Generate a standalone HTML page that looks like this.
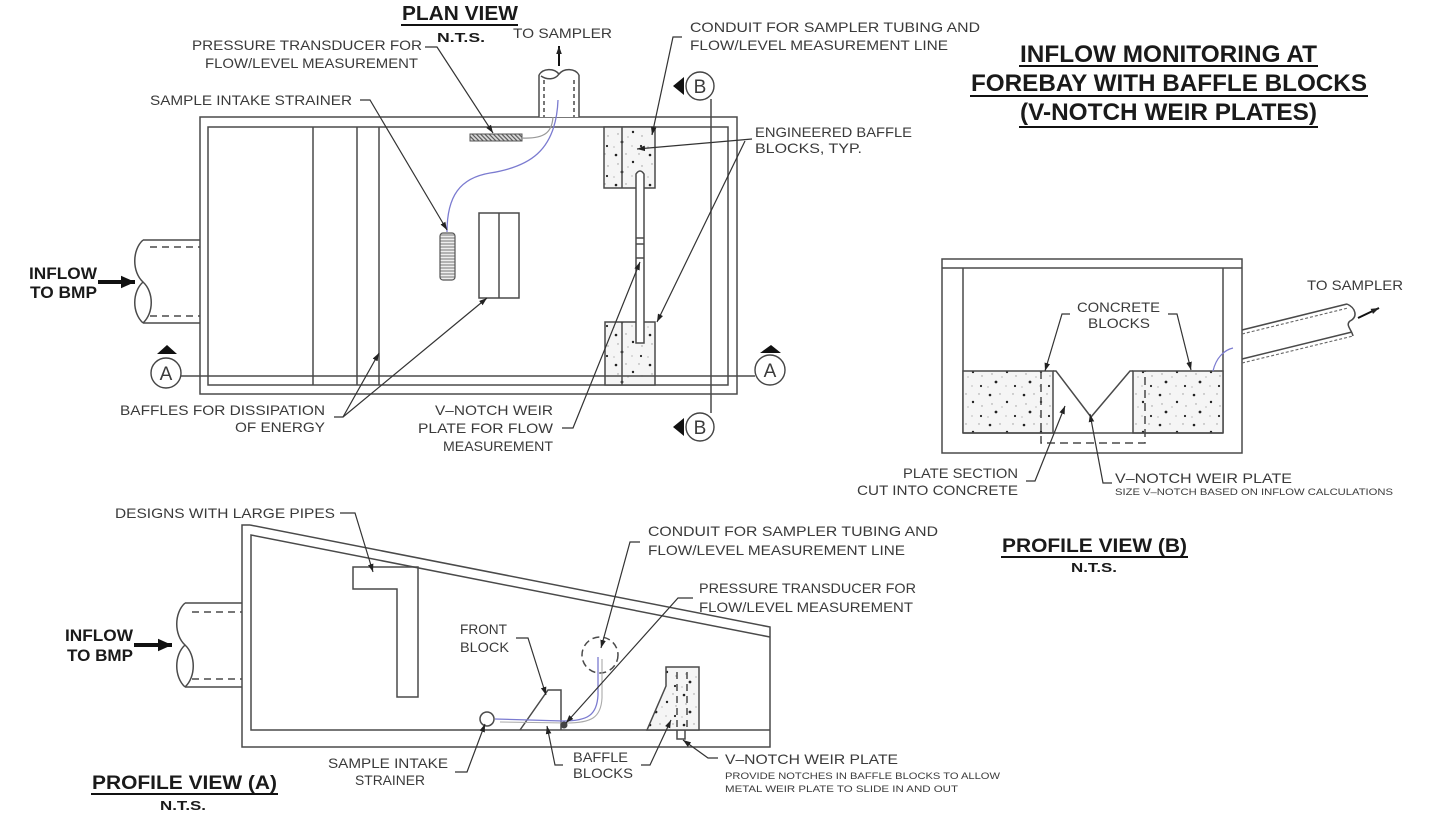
<!DOCTYPE html>
<html>
<head>
<meta charset="utf-8">
<style>
html,body{margin:0;padding:0;background:#fff;}
svg{display:block;}
.c{font-family:"Liberation Sans",sans-serif;font-size:14px;fill:#3a3a3a;}
.s{font-family:"Liberation Sans",sans-serif;font-size:9px;fill:#3a3a3a;}
.b{font-family:"Liberation Sans",sans-serif;font-weight:bold;fill:#1a1a1a;}
.l{stroke:#4a4a4a;stroke-width:1.5;fill:none;}
.k{stroke:#333;stroke-width:1.2;fill:none;}
</style>
</head>
<body>
<svg width="1440" height="824" viewBox="0 0 1440 824" xmlns="http://www.w3.org/2000/svg">
<defs>
<marker id="ah" viewBox="0 0 10 10" refX="10" refY="5" markerWidth="8" markerHeight="8" markerUnits="userSpaceOnUse" orient="auto"><path d="M0,1.5 L10,5 L0,8.5z" fill="#222"/></marker>
<marker id="big" viewBox="0 0 10 10" refX="10" refY="5" markerWidth="14" markerHeight="14" markerUnits="userSpaceOnUse" orient="auto"><path d="M0,0.5 L10,5 L0,9.5z" fill="#111"/></marker>
<pattern id="conc" width="34" height="30" patternUnits="userSpaceOnUse">
<rect width="34" height="30" fill="#f5f5f5"/>
<circle cx="4" cy="5" r="1.3" fill="#222"/>
<circle cx="21" cy="12" r="1.2" fill="#222"/>
<circle cx="10" cy="22" r="1.4" fill="#222"/>
<circle cx="29" cy="26" r="1.1" fill="#222"/>
<circle cx="14" cy="4" r="0.7" fill="#999"/>
<circle cx="27" cy="4" r="0.7" fill="#999"/>
<circle cx="6" cy="14" r="0.7" fill="#999"/>
<circle cx="16" cy="17" r="0.6" fill="#999"/>
<circle cx="30" cy="16" r="0.7" fill="#999"/>
<circle cx="20" cy="26" r="0.6" fill="#999"/>
<circle cx="2" cy="27" r="0.6" fill="#999"/>
</pattern>
<pattern id="hh" width="4" height="3" patternUnits="userSpaceOnUse"><rect width="4" height="3" fill="#eee"/><line x1="0" y1="1" x2="4" y2="1" stroke="#777" stroke-width="1"/></pattern>
<pattern id="dh" width="3" height="3" patternUnits="userSpaceOnUse" patternTransform="rotate(45)"><rect width="3" height="3" fill="#ddd"/><line x1="0" y1="1" x2="3" y2="1" stroke="#555" stroke-width="1.2"/></pattern>
</defs>

<!-- ================= PLAN VIEW ================= -->
<text class="b" x="402" y="20" font-size="20" textLength="116" lengthAdjust="spacingAndGlyphs">PLAN VIEW</text>
<line x1="401" y1="25" x2="518" y2="25" stroke="#111" stroke-width="2"/>
<text class="b" x="437" y="42" font-size="13" textLength="48" lengthAdjust="spacingAndGlyphs">N.T.S.</text>

<text class="c" x="513" y="38" textLength="99" lengthAdjust="spacingAndGlyphs">TO SAMPLER</text>
<text class="c" x="192" y="50" textLength="230" lengthAdjust="spacingAndGlyphs">PRESSURE TRANSDUCER FOR</text>
<text class="c" x="205" y="68" textLength="213" lengthAdjust="spacingAndGlyphs">FLOW/LEVEL MEASUREMENT</text>
<text class="c" x="150" y="105" textLength="202" lengthAdjust="spacingAndGlyphs">SAMPLE INTAKE STRAINER</text>
<text class="c" x="690" y="32" textLength="290" lengthAdjust="spacingAndGlyphs">CONDUIT FOR SAMPLER TUBING AND</text>
<text class="c" x="690" y="50" textLength="258" lengthAdjust="spacingAndGlyphs">FLOW/LEVEL MEASUREMENT LINE</text>
<text class="c" x="755" y="137" textLength="157" lengthAdjust="spacingAndGlyphs">ENGINEERED BAFFLE</text>
<text class="c" x="755" y="153" textLength="107" lengthAdjust="spacingAndGlyphs">BLOCKS, TYP.</text>
<text class="c" x="120" y="415" textLength="205" lengthAdjust="spacingAndGlyphs">BAFFLES FOR DISSIPATION</text>
<text class="c" x="235" y="432" textLength="90" lengthAdjust="spacingAndGlyphs">OF ENERGY</text>
<text class="c" x="435" y="415" textLength="118" lengthAdjust="spacingAndGlyphs">V–NOTCH WEIR</text>
<text class="c" x="418" y="433" textLength="135" lengthAdjust="spacingAndGlyphs">PLATE FOR FLOW</text>
<text class="c" x="443" y="451" textLength="110" lengthAdjust="spacingAndGlyphs">MEASUREMENT</text>

<text class="b" x="29" y="279" font-size="17" textLength="68" lengthAdjust="spacingAndGlyphs">INFLOW</text>
<text class="b" x="30" y="298" font-size="17" textLength="67" lengthAdjust="spacingAndGlyphs">TO BMP</text>
<line x1="98" y1="282" x2="135" y2="282" stroke="#111" stroke-width="4" marker-end="url(#big)"/>

<!-- inflow pipe -->
<line class="l" x1="143" y1="240" x2="200" y2="240"/>
<line class="l" x1="143" y1="323" x2="200" y2="323"/>
<line class="l" x1="150" y1="247" x2="200" y2="247" stroke-dasharray="7 5"/>
<line class="l" x1="150" y1="316" x2="200" y2="316" stroke-dasharray="7 5"/>
<path class="l" d="M143,240 C132,250 132,272 143,282 C132,292 132,313 143,323 M143,282 C154,292 154,313 143,323"/>

<!-- box -->
<rect class="l" x="200" y="117" width="537" height="277"/>
<rect class="l" x="208" y="127" width="520" height="258"/>
<line class="l" x1="313" y1="127" x2="313" y2="385"/>
<line class="l" x1="357" y1="127" x2="357" y2="385"/>
<line class="l" x1="379" y1="127" x2="379" y2="385"/>

<!-- pipe to sampler -->
<rect x="539" y="74" width="40" height="43" fill="#fff"/>
<line class="l" x1="539" y1="75" x2="539" y2="117"/>
<line class="l" x1="579" y1="75" x2="579" y2="117"/>
<line class="l" x1="544" y1="80" x2="544" y2="117" stroke-dasharray="4 3"/>
<line class="l" x1="574" y1="80" x2="574" y2="117" stroke-dasharray="4 3"/>
<path class="l" d="M539,75 C543,68 554,68 559,74 C564,68 575,68 579,75"/>
<path class="l" d="M541,76 C547,80 555,80 559,74"/>
<line x1="559" y1="66" x2="559" y2="46" stroke="#111" stroke-width="2" marker-end="url(#ah)"/>

<!-- transducer bar -->
<rect x="470" y="134" width="52" height="7" fill="url(#dh)" stroke="#555" stroke-width="1"/>
<!-- strainer -->
<rect x="440" y="233" width="15" height="47" rx="3" fill="url(#hh)" stroke="#555" stroke-width="1.2"/>
<!-- wires -->
<path d="M522,138 C545,139 552,132 553,117" stroke="#999" stroke-width="1.2" fill="none"/>
<path d="M447,232 C447,196 460,178 490,173 C528,167 556,152 558,100" stroke="#7b7bd0" stroke-width="1.3" fill="none"/>

<!-- middle baffle -->
<rect class="l" x="479" y="213" width="40" height="85"/>
<line class="l" x1="499" y1="213" x2="499" y2="298"/>

<!-- baffle blocks -->
<rect x="604" y="127" width="51" height="61" fill="url(#conc)" stroke="#4a4a4a" stroke-width="1.5"/>
<line class="l" x1="622" y1="127" x2="622" y2="188"/>
<rect x="605" y="322" width="50" height="63" fill="url(#conc)" stroke="#4a4a4a" stroke-width="1.5"/>
<line class="l" x1="622" y1="322" x2="622" y2="385"/>
<path d="M636,343 L636,174 Q640,168 644,174 L644,343 Z" fill="#fff" stroke="#4a4a4a" stroke-width="1.5"/>
<line class="l" x1="636" y1="238" x2="644" y2="238"/>
<line class="l" x1="636" y1="244" x2="644" y2="244"/>
<line class="l" x1="636" y1="258" x2="644" y2="258"/>

<!-- section lines -->
<line class="l" x1="181" y1="376" x2="755" y2="376"/>
<circle cx="166" cy="373" r="15" fill="#fff" stroke="#444" stroke-width="1.4"/>
<text class="c" x="166" y="380" style="font-size:19px" text-anchor="middle">A</text>
<polygon points="157,354 177,354 167,345" fill="#111"/>
<circle cx="770" cy="370" r="15" fill="#fff" stroke="#444" stroke-width="1.4"/>
<text class="c" x="770" y="377" style="font-size:19px" text-anchor="middle">A</text>
<polygon points="760,353 781,353 771,345" fill="#111"/>
<line class="l" x1="711" y1="99" x2="711" y2="413"/>
<circle cx="700" cy="86" r="14" fill="#fff" stroke="#444" stroke-width="1.4"/>
<text class="c" x="700" y="93" style="font-size:19px" text-anchor="middle">B</text>
<polygon points="673,86 684,77 684,95" fill="#111"/>
<circle cx="700" cy="427" r="14" fill="#fff" stroke="#444" stroke-width="1.4"/>
<text class="c" x="700" y="434" style="font-size:19px" text-anchor="middle">B</text>
<polygon points="673,427 684,418 684,436" fill="#111"/>

<!-- plan leaders -->
<polyline class="k" points="425,47 437,47 493,133" marker-end="url(#ah)"/>
<polyline class="k" points="360,100 370,100 447,230" marker-end="url(#ah)"/>
<polyline class="k" points="682,37 673,37 652,135" marker-end="url(#ah)"/>
<line class="k" x1="752" y1="139" x2="637" y2="149" marker-end="url(#ah)"/>
<line class="k" x1="745" y1="141" x2="657" y2="322" marker-end="url(#ah)"/>
<polyline class="k" points="562,428 573,428 640,262" marker-end="url(#ah)"/>
<polyline class="k" points="334,417 343,417 379,353" marker-end="url(#ah)"/>
<line class="k" x1="343" y1="417" x2="487" y2="298" marker-end="url(#ah)"/>

<!-- ================= TITLE ================= -->
<text class="b" x="1020" y="62" font-size="24" textLength="297" lengthAdjust="spacingAndGlyphs">INFLOW MONITORING AT</text>
<line x1="1019" y1="66" x2="1318" y2="66" stroke="#111" stroke-width="2"/>
<text class="b" x="971" y="91" font-size="24" textLength="396" lengthAdjust="spacingAndGlyphs">FOREBAY WITH BAFFLE BLOCKS</text>
<line x1="970" y1="96" x2="1368" y2="96" stroke="#111" stroke-width="2"/>
<text class="b" x="1020" y="120" font-size="24" textLength="297" lengthAdjust="spacingAndGlyphs">(V-NOTCH WEIR PLATES)</text>
<line x1="1019" y1="127" x2="1318" y2="127" stroke="#111" stroke-width="2"/>

<!-- ================= PROFILE VIEW B ================= -->
<rect class="l" x="942" y="259" width="300" height="194"/>
<line class="l" x1="942" y1="268" x2="1242" y2="268"/>
<line class="l" x1="963" y1="268" x2="963" y2="433"/>
<line class="l" x1="1223" y1="268" x2="1223" y2="433"/>
<rect x="963" y="371" width="90" height="62" fill="url(#conc)" stroke="#4a4a4a" stroke-width="1.5"/>
<rect x="1133" y="371" width="90" height="62" fill="url(#conc)" stroke="#4a4a4a" stroke-width="1.5"/>
<line class="l" x1="963" y1="433" x2="1223" y2="433"/>
<polyline class="l" points="1053,371 1056,371 1091,417 1130,371 1133,371"/>
<polyline class="l" points="1041,371 1041,443 1145,443 1145,371" stroke-dasharray="8 5"/>
<!-- pipe to sampler -->
<line class="l" x1="1242" y1="330" x2="1347" y2="304"/>
<line x1="1242" y1="334" x2="1348" y2="308" stroke="#666" stroke-width="1.1" stroke-dasharray="3 2"/>
<line class="l" x1="1242" y1="359" x2="1352" y2="332"/>
<line x1="1242" y1="363" x2="1353" y2="336" stroke="#666" stroke-width="1.1" stroke-dasharray="3 2"/>
<path class="l" d="M1347,304 C1356,308 1358,317 1350,321 C1345,325 1352,330 1353,336"/>
<line x1="1358" y1="318" x2="1379" y2="308" stroke="#111" stroke-width="2" marker-end="url(#ah)"/>
<path d="M1213,371 C1216,358 1224,350 1233,348" stroke="#7b7bd0" stroke-width="1.2" fill="none"/>

<text class="c" x="1307" y="290" textLength="96" lengthAdjust="spacingAndGlyphs">TO SAMPLER</text>
<text class="c" x="1077" y="312" textLength="83" lengthAdjust="spacingAndGlyphs">CONCRETE</text>
<text class="c" x="1088" y="328" textLength="62" lengthAdjust="spacingAndGlyphs">BLOCKS</text>
<polyline class="k" points="1070,314 1062,314 1045,371" marker-end="url(#ah)"/>
<polyline class="k" points="1168,314 1177,314 1191,370" marker-end="url(#ah)"/>
<text class="c" x="903" y="478" textLength="115" lengthAdjust="spacingAndGlyphs">PLATE SECTION</text>
<text class="c" x="857" y="495" textLength="161" lengthAdjust="spacingAndGlyphs">CUT INTO CONCRETE</text>
<polyline class="k" points="1026,481 1035,481 1065,406" marker-end="url(#ah)"/>
<polyline class="k" points="1112,483 1103,483 1090,414" marker-end="url(#ah)"/>
<text class="c" x="1115" y="483" textLength="177" lengthAdjust="spacingAndGlyphs">V–NOTCH WEIR PLATE</text>
<text class="s" x="1115" y="495" textLength="278" lengthAdjust="spacingAndGlyphs">SIZE V–NOTCH BASED ON INFLOW CALCULATIONS</text>
<text class="b" x="1002" y="552" font-size="19" textLength="185" lengthAdjust="spacingAndGlyphs">PROFILE VIEW (B)</text>
<line x1="1001" y1="557" x2="1188" y2="557" stroke="#111" stroke-width="2"/>
<text class="b" x="1071" y="572" font-size="13" textLength="46" lengthAdjust="spacingAndGlyphs">N.T.S.</text>

<!-- ================= PROFILE VIEW A ================= -->
<polyline class="l" points="250,525 242,525 242,747 770,747 770,627 250,525"/>
<polyline class="l" points="770,637 251,535 251,730 770,730"/>
<!-- L pipe -->
<polygon class="l" points="353,567 418,567 418,697 397,697 397,589 353,589"/>
<!-- inflow pipe -->
<line class="l" x1="185" y1="603" x2="242" y2="603"/>
<line class="l" x1="185" y1="687" x2="242" y2="687"/>
<line class="l" x1="192" y1="612" x2="242" y2="612" stroke-dasharray="7 5"/>
<line class="l" x1="192" y1="679" x2="242" y2="679" stroke-dasharray="7 5"/>
<path class="l" d="M185,603 C174,613 174,635 185,645 C174,655 174,677 185,687 M185,645 C196,655 196,677 185,687"/>
<text class="b" x="65" y="641" font-size="17" textLength="68" lengthAdjust="spacingAndGlyphs">INFLOW</text>
<text class="b" x="67" y="661" font-size="17" textLength="66" lengthAdjust="spacingAndGlyphs">TO BMP</text>
<line x1="134" y1="645" x2="172" y2="645" stroke="#111" stroke-width="4" marker-end="url(#big)"/>

<!-- internals -->
<circle cx="487" cy="719" r="7" fill="#fff" stroke="#4a4a4a" stroke-width="1.5"/>
<polyline class="l" points="520,730 548,690 561,690 561,730"/>
<circle cx="600" cy="655" r="18" fill="none" stroke="#4a4a4a" stroke-width="1.5" stroke-dasharray="7 4"/>
<path d="M497,720 L563,721 C588,721 598,716 599,696 L599,657" stroke="#aaa" stroke-width="1.1" fill="none" transform="translate(3,2)"/>
<path d="M495,719 L563,721 C588,721 597,715 598,695 L598,657" stroke="#7b7bd0" stroke-width="1.3" fill="none"/>
<circle cx="564" cy="725" r="3.5" fill="#444"/>
<polygon points="666,667 699,667 699,730 647,730 666,686" fill="url(#conc)" stroke="#4a4a4a" stroke-width="1.5"/>
<line class="l" x1="677" y1="672" x2="677" y2="728" stroke-dasharray="7 5"/>
<line class="l" x1="687" y1="672" x2="687" y2="728" stroke-dasharray="7 5"/>
<polyline class="l" points="677,730 677,739 685,739 685,730"/>

<!-- profile A labels -->
<text class="c" x="115" y="518" textLength="220" lengthAdjust="spacingAndGlyphs">DESIGNS WITH LARGE PIPES</text>
<polyline class="k" points="340,513 355,513 373,572" marker-end="url(#ah)"/>
<text class="c" x="460" y="634" textLength="47" lengthAdjust="spacingAndGlyphs">FRONT</text>
<text class="c" x="460" y="652" textLength="49" lengthAdjust="spacingAndGlyphs">BLOCK</text>
<polyline class="k" points="516,638 528,638 546,695" marker-end="url(#ah)"/>
<text class="c" x="648" y="536" textLength="290" lengthAdjust="spacingAndGlyphs">CONDUIT FOR SAMPLER TUBING AND</text>
<text class="c" x="648" y="555" textLength="257" lengthAdjust="spacingAndGlyphs">FLOW/LEVEL MEASUREMENT LINE</text>
<polyline class="k" points="640,542 630,542 601,648" marker-end="url(#ah)"/>
<text class="c" x="699" y="593" textLength="217" lengthAdjust="spacingAndGlyphs">PRESSURE TRANSDUCER FOR</text>
<text class="c" x="699" y="612" textLength="214" lengthAdjust="spacingAndGlyphs">FLOW/LEVEL MEASUREMENT</text>
<polyline class="k" points="693,598 678,598 566,723" marker-end="url(#ah)"/>
<text class="c" x="328" y="768" textLength="120" lengthAdjust="spacingAndGlyphs">SAMPLE INTAKE</text>
<text class="c" x="355" y="785" textLength="70" lengthAdjust="spacingAndGlyphs">STRAINER</text>
<polyline class="k" points="455,772 467,772 485,724" marker-end="url(#ah)"/>
<text class="c" x="573" y="762" textLength="55" lengthAdjust="spacingAndGlyphs">BAFFLE</text>
<text class="c" x="573" y="778" textLength="60" lengthAdjust="spacingAndGlyphs">BLOCKS</text>
<polyline class="k" points="563,765 555,765 547,726" marker-end="url(#ah)"/>
<polyline class="k" points="641,765 650,765 671,720" marker-end="url(#ah)"/>
<text class="c" x="725" y="764" textLength="173" lengthAdjust="spacingAndGlyphs">V–NOTCH WEIR PLATE</text>
<polyline class="k" points="718,758 708,758 683,740" marker-end="url(#ah)"/>
<text class="s" x="725" y="779" textLength="275" lengthAdjust="spacingAndGlyphs">PROVIDE NOTCHES IN BAFFLE BLOCKS TO ALLOW</text>
<text class="s" x="725" y="792" textLength="233" lengthAdjust="spacingAndGlyphs">METAL WEIR PLATE TO SLIDE IN AND OUT</text>
<text class="b" x="92" y="789" font-size="19" textLength="185" lengthAdjust="spacingAndGlyphs">PROFILE VIEW (A)</text>
<line x1="91" y1="794" x2="278" y2="794" stroke="#111" stroke-width="2"/>
<text class="b" x="160" y="810" font-size="13" textLength="46" lengthAdjust="spacingAndGlyphs">N.T.S.</text>
</svg>
</body>
</html>
